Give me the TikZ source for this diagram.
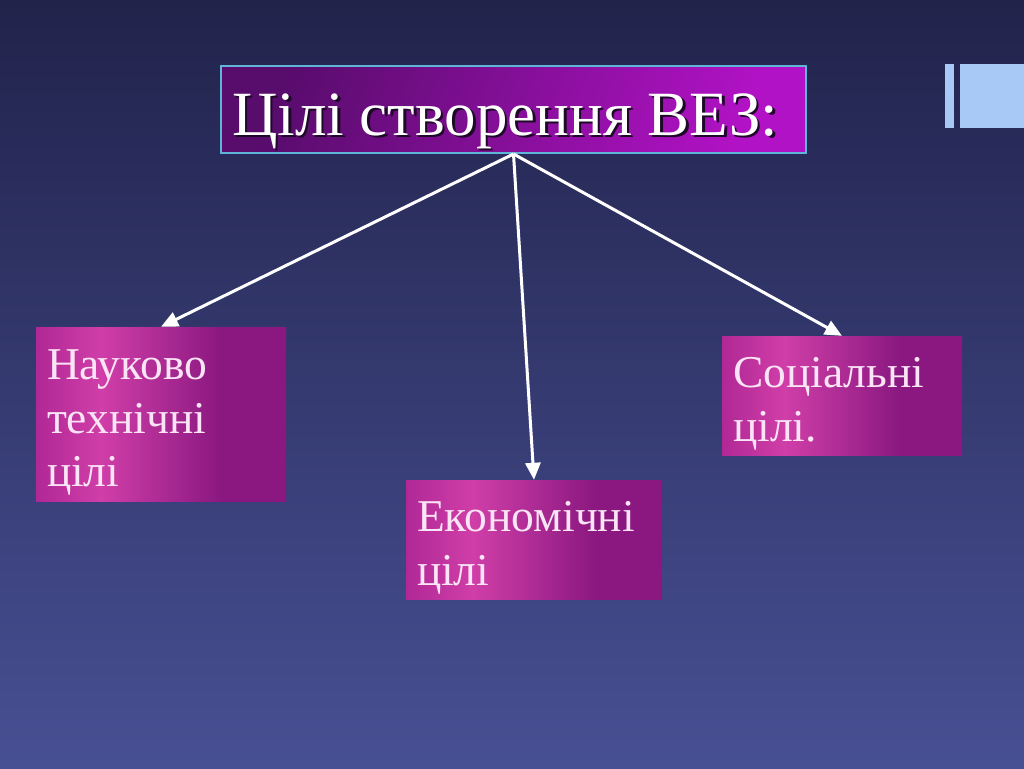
\documentclass[tikz,border=0pt]{standalone}
\usepackage{fontspec}
\setmainfont{Liberation Serif}
\usetikzlibrary{arrows.meta,shadings}
\definecolor{bgtop}{RGB}{33,35,75}
\definecolor{bgbot}{RGB}{72,80,148}
\definecolor{tl}{RGB}{88,12,108}
\definecolor{tr}{RGB}{178,18,198}
\definecolor{bl}{RGB}{176,40,150}
\definecolor{bm}{RGB}{208,62,168}
\definecolor{br}{RGB}{138,24,128}
\definecolor{deco}{RGB}{168,200,246}
\definecolor{frame}{RGB}{95,180,215}
\definecolor{pinktext}{RGB}{250,228,245}
\definecolor{shadowc}{RGB}{30,10,40}
\pgfdeclarehorizontalshading{goalsh}{100bp}{color(0bp)=(bl); color(25bp)=(bl); color(38bp)=(bm); color(62bp)=(br); color(75bp)=(br); color(100bp)=(br)}
\newcommand{\topgap}{\rule{0pt}{47pt}}
\tikzset{
  goal/.style={shading=goalsh, draw=none, inner xsep=11pt, inner ysep=0pt,
    align=left, text=pinktext, anchor=center,
    font=\fontsize{45.5}{53.5}\selectfont},
  titlebox/.style={left color=tl, right color=tr, shading angle=70, draw=frame, line width=2pt,
    minimum width=585pt, minimum height=87pt, inner sep=0pt},
  titletext/.style={font=\fontsize{63}{70}\selectfont, inner sep=0pt, anchor=base west},
  conn/.style={draw=white, line width=3pt, -{Triangle[length=17pt,width=15pt]}},
}
\begin{document}
\begin{tikzpicture}[x=1pt,y=-1pt]
\useasboundingbox (0,0) rectangle (1024,768);
\fill[top color=bgtop, bottom color=bgbot] (0,0) rectangle (1024,768);
% decoration
\fill[deco] (945,64) rectangle (954,128);
\fill[deco] (960,64) rectangle (1024,128);
% title
\node[titlebox] (title) at (513.5,109.5) {};
\node[titletext, text=shadowc] (titleshadow) at (234.5,137.5) {Цілі створення ВЕЗ:};
\node[titletext, text=white] (titlelabel) at (232,135) {Цілі створення ВЕЗ:};
% goal boxes
\node[goal, text width=228pt, minimum height=174pt] (sci) at (161,414) {\topgap Науково\\технічні\\цілі};
\node[goal, text width=234pt, minimum height=119pt] (eco) at (534,539.5) {\topgap Економічні\\цілі};
\node[goal, text width=218pt, minimum height=119pt] (soc) at (842,395.5) {\topgap Соціальні\\цілі.};
% connectors
\draw[conn] (title.south) -- (sci.north);
\draw[conn] (title.south) -- (eco.north);
\draw[conn] (title.south) -- (soc.north);
\end{tikzpicture}
\end{document}
